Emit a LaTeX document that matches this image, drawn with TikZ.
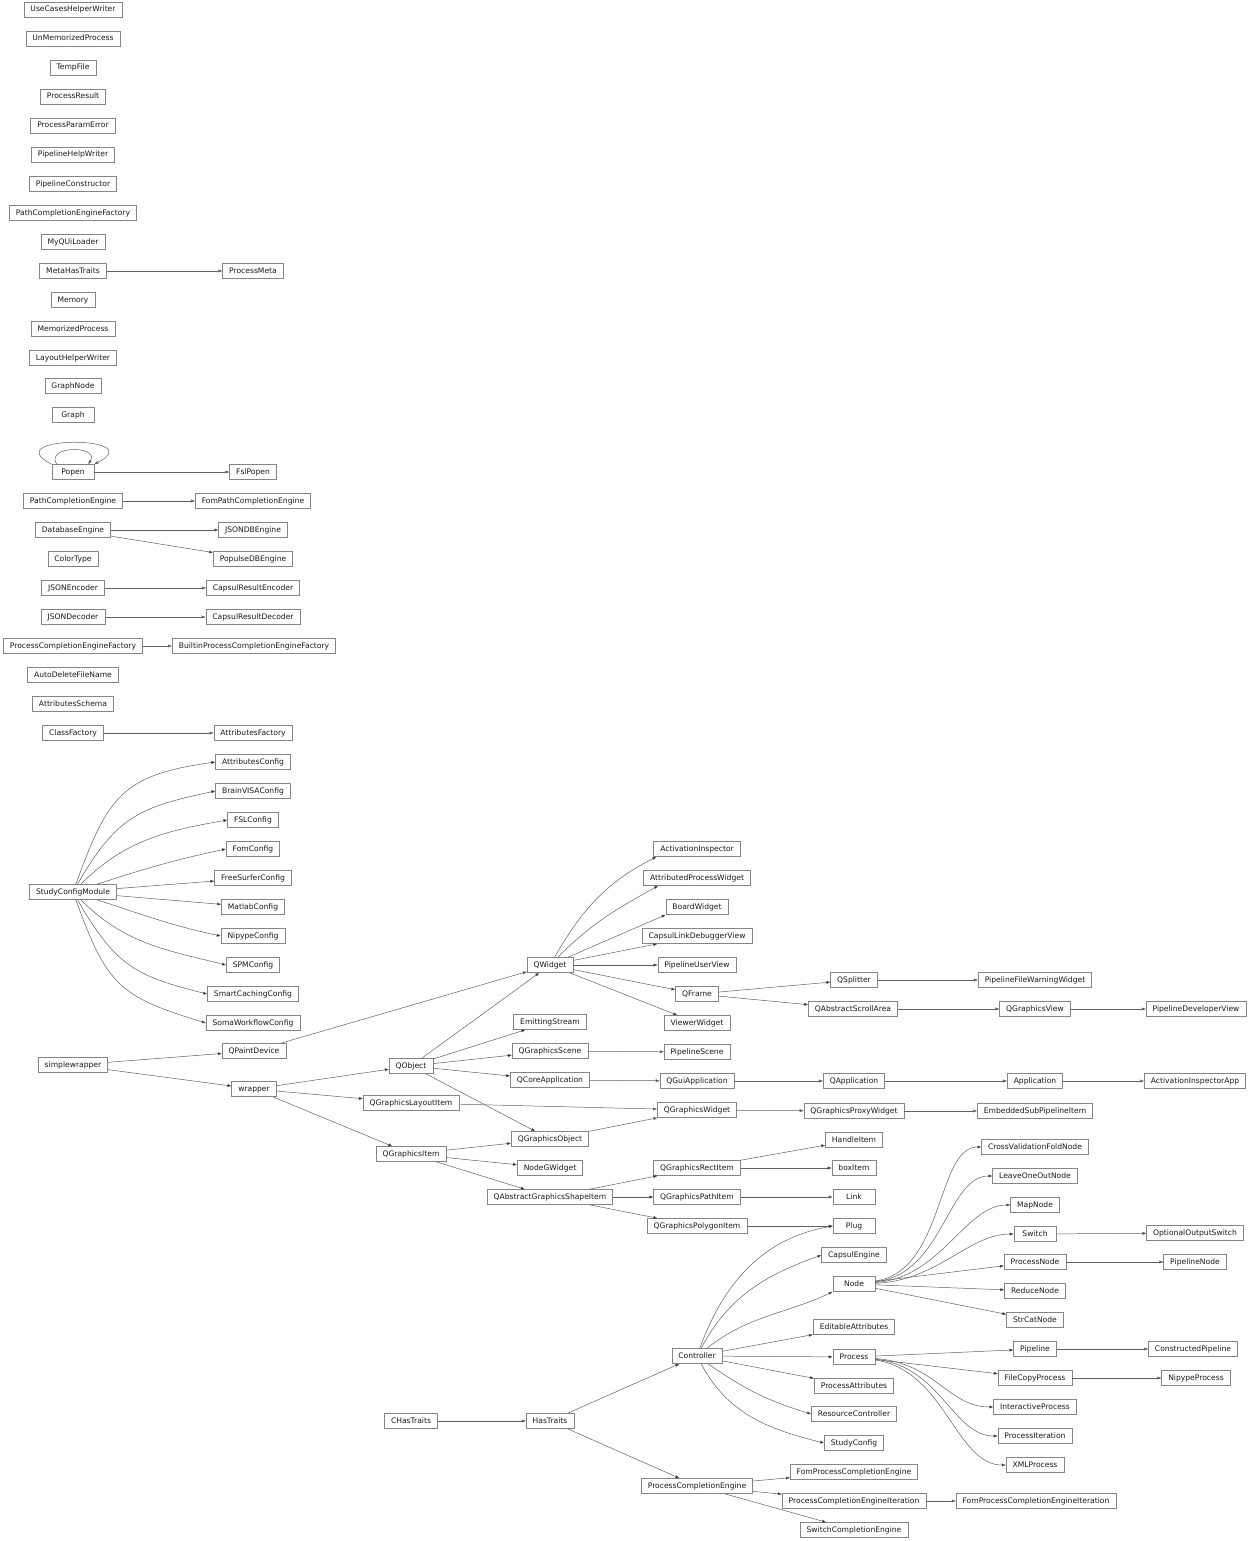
\documentclass[tikz,border=0pt]{standalone}
\usepackage{fontspec}
\setmainfont{DejaVu Sans}
\usetikzlibrary{arrows.meta}
\tikzset{
  klass/.style={ % image of one class box
    draw=black!48, line width=0.6pt, rectangle,
    minimum width=42pt, minimum height=15pt,
    inner xsep=6.5pt, inner ysep=0pt,
    text height=5.6pt, text depth=1.6pt,
    font=\fontsize{7.6}{9}\selectfont, text=black!90
  },
  derive/.style={ % image of an inheritance link
    draw=black!62, line width=0.5pt
  }
}
\begin{document}
\begin{tikzpicture}[
      x=1pt, y=-1pt, ->, >={Triangle[length=4pt,width=2.8pt]}
    ]
      \useasboundingbox (0,0) rectangle (1248,1541);

      % first column
      \node[klass] (usecases) at (73,10) {UseCasesHelperWriter};
      \node[klass] (unmemo) at (73,39) {UnMemorizedProcess};
      \node[klass] (tempfile) at (73,68) {TempFile};
      \node[klass] (presult) at (73,97) {ProcessResult};
      \node[klass] (pparamerr) at (73,126) {ProcessParamError};
      \node[klass] (phelpw) at (73,155) {PipelineHelpWriter};
      \node[klass] (pconstr) at (73,184) {PipelineConstructor};
      \node[klass] (pcefact) at (73,213) {PathCompletionEngineFactory};
      \node[klass] (myqui) at (73,242) {MyQUiLoader};
      \node[klass] (metaht) at (73,271) {MetaHasTraits};
      \node[klass] (memory) at (73,300) {Memory};
      \node[klass] (memoproc) at (73,329) {MemorizedProcess};
      \node[klass] (layouthw) at (73,358) {LayoutHelperWriter};
      \node[klass] (graphnode) at (73,386) {GraphNode};
      \node[klass] (graphcls) at (73,415) {Graph};
      \node[klass] (popen) at (73,472) {Popen};
      \node[klass] (pce) at (73,501) {PathCompletionEngine};
      \node[klass] (dbengine) at (73,530) {DatabaseEngine};
      \node[klass] (colortype) at (73,559) {ColorType};
      \node[klass] (jsonenc) at (73,588) {JSONEncoder};
      \node[klass] (jsondec) at (73,617) {JSONDecoder};
      \node[klass] (procfact) at (73,646) {ProcessCompletionEngineFactory};
      \node[klass] (autodel) at (73,675) {AutoDeleteFileName};
      \node[klass] (attschema) at (73,704) {AttributesSchema};
      \node[klass] (classfact) at (73,733) {ClassFactory};
      \node[klass] (studycm) at (73,892) {StudyConfigModule};
      \node[klass] (simplew) at (73,1065) {simplewrapper};

      % second column
      \node[klass] (procmeta) at (253,271) {ProcessMeta};
      \node[klass] (fslpopen) at (253,472) {FslPopen};
      \node[klass] (fompce) at (253,501) {FomPathCompletionEngine};
      \node[klass] (jsondb) at (253,530) {JSONDBEngine};
      \node[klass] (populse) at (253,559) {PopulseDBEngine};
      \node[klass] (capenc) at (253,588) {CapsulResultEncoder};
      \node[klass] (capdec) at (253,617) {CapsulResultDecoder};
      \node[klass] (builtin) at (254,646) {BuiltinProcessCompletionEngineFactory};
      \node[klass] (attfact) at (253,733) {AttributesFactory};
      \node[klass] (attcfg) at (253,762) {AttributesConfig};
      \node[klass] (bvcfg) at (253,791) {BrainVISAConfig};
      \node[klass] (fslcfg) at (253,820) {FSLConfig};
      \node[klass] (fomcfg) at (253,849) {FomConfig};
      \node[klass] (fscfg) at (253,878) {FreeSurferConfig};
      \node[klass] (matcfg) at (253,907) {MatlabConfig};
      \node[klass] (nipcfg) at (253,936) {NipypeConfig};
      \node[klass] (spmcfg) at (253,965) {SPMConfig};
      \node[klass] (sccfg) at (253,994) {SmartCachingConfig};
      \node[klass] (swcfg) at (253,1023) {SomaWorkflowConfig};
      \node[klass] (qpaint) at (254,1051) {QPaintDevice};
      \node[klass] (wrapper) at (254,1089) {wrapper};

      % third and fourth columns
      \node[klass] (qobject) at (411,1066) {QObject};
      \node[klass] (qglayout) at (411,1103) {QGraphicsLayoutItem};
      \node[klass] (qgitem) at (411,1154) {QGraphicsItem};
      \node[klass] (chastraits) at (411,1421) {CHasTraits};
      \node[klass] (qwidget) at (550,965) {QWidget};
      \node[klass] (emitting) at (550,1022) {EmittingStream};
      \node[klass] (qgscene) at (550,1051) {QGraphicsScene};
      \node[klass] (qcoreapp) at (550,1080) {QCoreApplication};
      \node[klass] (qgobject) at (550,1139) {QGraphicsObject};
      \node[klass] (nodegw) at (550,1168) {NodeGWidget};
      \node[klass] (qagsi) at (550,1197) {QAbstractGraphicsShapeItem};
      \node[klass] (hastraits) at (550,1421) {HasTraits};

      % fifth column
      \node[klass] (actinsp) at (697,849) {ActivationInspector};
      \node[klass] (attpw) at (697,878) {AttributedProcessWidget};
      \node[klass] (boardw) at (697,907) {BoardWidget};
      \node[klass] (capsldv) at (697,936) {CapsulLinkDebuggerView};
      \node[klass] (puserv) at (697,965) {PipelineUserView};
      \node[klass] (qframe) at (697,994) {QFrame};
      \node[klass] (viewerw) at (697,1023) {ViewerWidget};
      \node[klass] (pscene) at (697,1052) {PipelineScene};
      \node[klass] (qguiapp) at (697,1081) {QGuiApplication};
      \node[klass] (qgwidget) at (697,1110) {QGraphicsWidget};
      \node[klass] (qgrect) at (697,1168) {QGraphicsRectItem};
      \node[klass] (qgpath) at (697,1197) {QGraphicsPathItem};
      \node[klass] (qgpoly) at (697,1226) {QGraphicsPolygonItem};
      \node[klass] (controller) at (697,1356) {Controller};
      \node[klass] (pcengine) at (697,1486) {ProcessCompletionEngine};

      % sixth column
      \node[klass] (qsplitter) at (854,980) {QSplitter};
      \node[klass] (qasa) at (853,1009) {QAbstractScrollArea};
      \node[klass] (qapp) at (854,1081) {QApplication};
      \node[klass] (qgproxy) at (854,1111) {QGraphicsProxyWidget};
      \node[klass] (handle) at (854,1140) {HandleItem};
      \node[klass] (boxitem) at (854,1168) {boxItem};
      \node[klass] (link) at (854,1197) {Link};
      \node[klass] (plug) at (854,1226) {Plug};
      \node[klass] (capsengine) at (854,1255) {CapsulEngine};
      \node[klass] (pnode) at (854,1284) {Node};
      \node[klass] (editatt) at (854,1327) {EditableAttributes};
      \node[klass] (process) at (854,1357) {Process};
      \node[klass] (procatt) at (854,1386) {ProcessAttributes};
      \node[klass] (rescontr) at (854,1414) {ResourceController};
      \node[klass] (studycfg) at (854,1443) {StudyConfig};
      \node[klass] (fompce2) at (854,1472) {FomProcessCompletionEngine};
      \node[klass] (pceiter) at (854,1501) {ProcessCompletionEngineIteration};
      \node[klass] (switchce) at (854,1530) {SwitchCompletionEngine};

      % seventh and eighth columns
      \node[klass] (pfww) at (1035,980) {PipelineFileWarningWidget};
      \node[klass] (qgview) at (1035,1009) {QGraphicsView};
      \node[klass] (application) at (1035,1081) {Application};
      \node[klass] (embedded) at (1035,1111) {EmbeddedSubPipelineItem};
      \node[klass] (cvfold) at (1035,1147) {CrossValidationFoldNode};
      \node[klass] (loonode) at (1035,1176) {LeaveOneOutNode};
      \node[klass] (mapnode) at (1035,1205) {MapNode};
      \node[klass] (switch) at (1035,1234) {Switch};
      \node[klass] (procnode) at (1035,1262) {ProcessNode};
      \node[klass] (reduce) at (1035,1291) {ReduceNode};
      \node[klass] (strcat) at (1035,1320) {StrCatNode};
      \node[klass] (pipeline) at (1035,1349) {Pipeline};
      \node[klass] (filecopy) at (1035,1378) {FileCopyProcess};
      \node[klass] (interact) at (1035,1407) {InteractiveProcess};
      \node[klass] (piter) at (1035,1436) {ProcessIteration};
      \node[klass] (xmlproc) at (1035,1465) {XMLProcess};
      \node[klass] (fompceiter) at (1036,1501) {FomProcessCompletionEngineIteration};
      \node[klass] (pdevview) at (1196,1009) {PipelineDeveloperView};
      \node[klass] (actinspapp) at (1195,1081) {ActivationInspectorApp};
      \node[klass] (optout) at (1195,1233) {OptionalOutputSwitch};
      \node[klass] (pipenode) at (1195,1262) {PipelineNode};
      \node[klass] (constrpipe) at (1193,1349) {ConstructedPipeline};
      \node[klass] (nipype) at (1196,1378) {NipypeProcess};

      % links of the upper part
      \draw[derive] (metaht) -- (procmeta);
      \draw[derive] (popen.north west) .. controls +(-57,-29) and +(57,-29) .. (popen.north east);
      \draw[derive] ([xshift=5pt]popen.north west) .. controls +(-12,-19) and +(12,-19) .. ([xshift=-6pt]popen.north east);
      \draw[derive] (popen) -- (fslpopen);
      \draw[derive] (pce) -- (fompce);
      \path[derive] (dbengine) edge (jsondb) edge (populse);
      \draw[derive] (jsonenc) -- (capenc);
      \draw[derive] (jsondec) -- (capdec);
      \draw[derive] (procfact) -- (builtin);
      \draw[derive] (classfact) -- (attfact);
      \path[derive] (studycm)
        edge[out=70, in=188, looseness=1.3] (attcfg.west)
        edge[out=60, in=192, looseness=1.2] (bvcfg.west)
        edge[out=45, in=190] (fslcfg.west)
        edge[out=18, in=192] (fomcfg.west)
        edge (fscfg) edge (matcfg)
        edge[out=-18, in=168] (nipcfg.west)
        edge[out=-45, in=166] (spmcfg.west)
        edge[out=-60, in=166, looseness=1.2] (sccfg.west)
        edge[out=-70, in=163, looseness=1.3] (swcfg.west);

      % links of the Qt classes
      \path[derive] (simplew) edge (qpaint) edge (wrapper);
      \draw[derive] (qpaint) -- (qwidget);
      \path[derive] (wrapper) edge (qobject) edge (qglayout) edge (qgitem);
      \path[derive] (qobject) edge (qwidget) edge (emitting) edge (qgscene)
        edge (qcoreapp) edge (qgobject);
      \path[derive] (qwidget)
        edge[out=60, in=207] ([xshift=3pt]actinsp.south west)
        edge[out=45, in=209] ([xshift=15pt]attpw.south west)
        edge (boardw.south west) edge (capsldv) edge (puserv)
        edge (qframe) edge (viewerw);
      \path[derive] (qframe) edge (qsplitter) edge (qasa);
      \draw[derive] (qsplitter) -- (pfww);
      \draw[derive] (qasa) -- (qgview);
      \draw[derive] (qgview) -- (pdevview);
      \draw[derive] (qgscene) -- (pscene);
      \draw[derive] (qcoreapp) -- (qguiapp);
      \draw[derive] (qguiapp) -- (qapp);
      \draw[derive] (qapp) -- (application);
      \draw[derive] (application) -- (actinspapp);
      \draw[derive] (qglayout) -- (qgwidget);
      \draw[derive] (qgobject) -- (qgwidget);
      \draw[derive] (qgwidget) -- (qgproxy);
      \draw[derive] (qgproxy) -- (embedded);
      \path[derive] (qgitem) edge (qgobject) edge (nodegw) edge (qagsi);
      \path[derive] (qagsi) edge (qgrect) edge (qgpath) edge (qgpoly);
      \path[derive] (qgrect) edge (handle) edge (boxitem);
      \draw[derive] (qgpath) -- (link);
      \draw[derive] (qgpoly) -- (plug);

      % links of the traits classes
      \draw[derive] (chastraits) -- (hastraits);
      \path[derive] (hastraits) edge (controller) edge (pcengine);
      \path[derive] (controller)
        edge[out=70, in=190] (plug.west)
        edge[out=62, in=200] (capsengine.west)
        edge[out=38, in=205] (pnode.south west)
        edge (editatt) edge (process) edge (procatt)
        edge[out=-35, in=163] (rescontr.west)
        edge[out=-62, in=166] (studycfg.west);
      \path[derive] (pnode)
        edge[out=8, in=180, out distance=70pt, in distance=45pt] (cvfold.west)
        edge[out=6, in=180, out distance=68pt, in distance=45pt] (loonode.west)
        edge[out=4, in=180, out distance=66pt, in distance=45pt] (mapnode.west)
        edge[out=2, in=180, out distance=62pt, in distance=45pt] (switch.west)
        edge (procnode) edge (reduce) edge (strcat);
      \draw[derive] (switch) -- (optout);
      \draw[derive] (procnode) -- (pipenode);
      \path[derive] (process)
        edge (pipeline) edge (filecopy)
        edge[out=-4, in=180, out distance=60pt, in distance=45pt] (interact.west)
        edge[out=-6, in=180, out distance=66pt, in distance=45pt] (piter.west)
        edge[out=-8, in=180, out distance=70pt, in distance=50pt] (xmlproc.west);
      \draw[derive] (pipeline) -- (constrpipe);
      \draw[derive] (filecopy) -- (nipype);
      \path[derive] (pcengine) edge (fompce2) edge (pceiter) edge (switchce);
      \draw[derive] (pceiter) -- (fompceiter);
    \end{tikzpicture}
\end{document}
